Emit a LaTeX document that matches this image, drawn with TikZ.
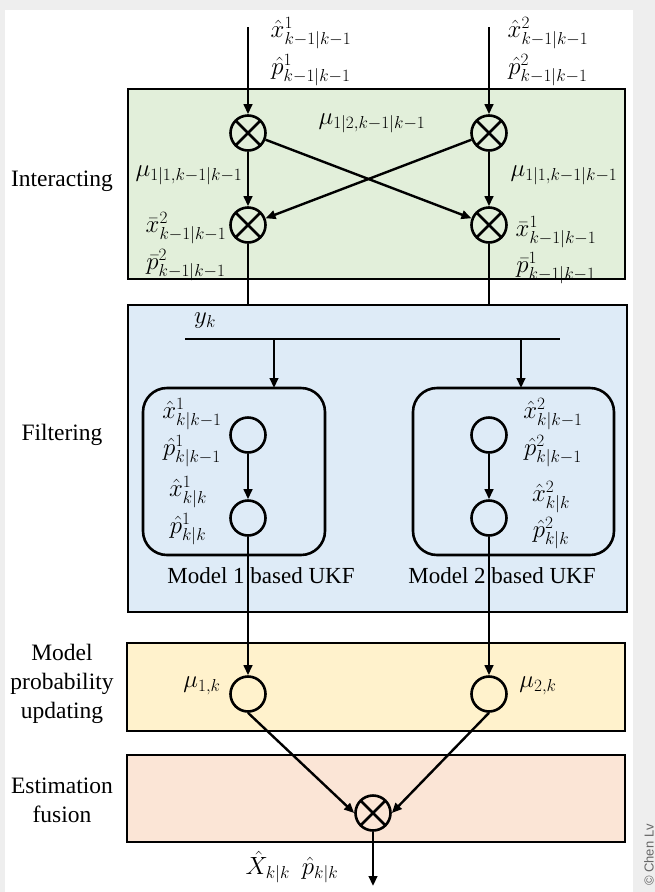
\documentclass[tikz,border=0pt]{standalone}
\usepackage{fontspec}
\setmainfont{Liberation Serif}
\newfontfamily\credfont{Liberation Sans}
\usetikzlibrary{arrows.meta}

\definecolor{pagegrey}{RGB}{238,238,238}
\definecolor{interfill}{RGB}{226,239,218}
\definecolor{filtfill}{RGB}{222,235,247}
\definecolor{probfill}{RGB}{255,242,204}
\definecolor{fusefill}{RGB}{251,229,214}

\tikzset{
  stagebox/.style={draw=black, line width=2.8pt},
  ukfbox/.style={draw=black, line width=2.6pt, rounded corners=24pt},
  conn/.style={line width=2.4pt},
  arr/.style={conn, -{Triangle[length=10pt,width=8.5pt]}},
  ring/.style={circle, draw=black, line width=2.6pt, minimum size=35pt, inner sep=0pt},
  otimes/.style={ring, path picture={
      \draw[line width=2.6pt]
        (path picture bounding box.north west) -- (path picture bounding box.south east)
        (path picture bounding box.north east) -- (path picture bounding box.south west);}},
  lbl/.style={inner sep=0pt, font=\fontsize{24}{28}\selectfont},
  stage/.style={inner sep=0pt, align=center, font=\fontsize{23.5}{29}\selectfont},
  ukfname/.style={inner sep=0pt, font=\fontsize{23}{27}\selectfont},
}

\begin{document}
\begin{tikzpicture}[x=1pt, y=-1pt]
  % page and card
  \fill[pagegrey] (0,0) rectangle (655,892);
  \fill[white] (5,10) rectangle (633,892);
  \useasboundingbox (0,0) rectangle (655,892);

  % stage panels
  \draw[stagebox, fill=interfill] (128,89) rectangle (625,279);
  \draw[stagebox, fill=filtfill]  (128,305) rectangle (627,612);
  \draw[stagebox, fill=probfill]  (127,643) rectangle (625,731);
  \draw[stagebox, fill=fusefill]  (127,755) rectangle (625,842);

  % stage names
  \node[stage] (sInter) at (62,181) {Interacting};
  \node[stage] (sFilt)  at (62,435) {Filtering};
  \node[stage] (sProb)  at (62,684) {Model\\probability\\updating};
  \node[stage] (sFuse)  at (62,800) {Estimation\\fusion};

  % ---------------- interacting ----------------
  \coordinate (in1) at (248,27);
  \coordinate (in2) at (489,27);
  \node[otimes] (a1) at (248,133) {};
  \node[otimes] (a2) at (489,133) {};
  \node[otimes] (b1) at (248,225) {};
  \node[otimes] (b2) at (489,225) {};
  \coordinate (f1) at (248,305);
  \coordinate (f2) at (489,305);

  \draw[arr] (in1) -- (a1);
  \draw[arr] (in2) -- (a2);
  \draw[arr] (a1) -- (b1);
  \draw[arr] (a2) -- (b2);
  \draw[arr] (a1) -- (b2);
  \draw[arr] (a2) -- (b1);
  \draw[conn] (b1) -- (f1);
  \draw[conn] (b2) -- (f2);

  \node[lbl] (lx1) at (311,33) {$\hat{x}^1_{k-1|k-1}$};
  \node[lbl] (lp1) at (311,70) {$\hat{p}^1_{k-1|k-1}$};
  \node[lbl] (lx2) at (548,33) {$\hat{x}^2_{k-1|k-1}$};
  \node[lbl] (lp2) at (548,70) {$\hat{p}^2_{k-1|k-1}$};
  \node[lbl] (mu12) at (372,123) {$\mu_{1|2,k-1|k-1}$};
  \node[lbl] (mu11a) at (189,175) {$\mu_{1|1,k-1|k-1}$};
  \node[lbl] (mu11b) at (564,175) {$\mu_{1|1,k-1|k-1}$};
  \node[lbl] (bx2) at (186,228) {$\bar{x}^2_{k-1|k-1}$};
  \node[lbl] (bp2) at (186,265) {$\bar{p}^2_{k-1|k-1}$};
  \node[lbl] (bx1) at (556,232) {$\bar{x}^1_{k-1|k-1}$};
  \node[lbl] (bp1) at (556,268) {$\bar{p}^1_{k-1|k-1}$};

  % ---------------- filtering ----------------
  \node[lbl] (yk) at (205,321) {$y_k$};
  \coordinate (busL) at (185,339);
  \coordinate (busR) at (560,339);
  \coordinate (tap1) at (274,339);
  \coordinate (tap2) at (521,339);
  \coordinate (top1) at (274,388);
  \coordinate (top2) at (521,388);
  \draw[conn] (busL) -- (busR);
  \draw[arr] (tap1) -- (top1);
  \draw[arr] (tap2) -- (top2);

  \draw[ukfbox] (143,388) rectangle (325,555);
  \draw[ukfbox] (413,388) rectangle (614,555);

  \node[ring] (c11) at (248,435) {};
  \node[ring] (c12) at (248,518) {};
  \node[ring] (c21) at (489,435) {};
  \node[ring] (c22) at (489,518) {};
  \draw[arr] (c11) -- (c12);
  \draw[arr] (c21) -- (c22);

  \node[lbl] (px1) at (192,414) {$\hat{x}^1_{k|k-1}$};
  \node[lbl] (pp1) at (192,451) {$\hat{p}^1_{k|k-1}$};
  \node[lbl] (ux1) at (188,492) {$\hat{x}^1_{k|k}$};
  \node[lbl] (up1) at (188,529) {$\hat{p}^1_{k|k}$};
  \node[lbl] (px2) at (553,414) {$\hat{x}^2_{k|k-1}$};
  \node[lbl] (pp2) at (553,451) {$\hat{p}^2_{k|k-1}$};
  \node[lbl] (ux2) at (551,497) {$\hat{x}^2_{k|k}$};
  \node[lbl] (up2) at (551,533) {$\hat{p}^2_{k|k}$};

  \node[ukfname] (uk1) at (261,576) {Model 1 based UKF};
  \node[ukfname] (uk2) at (502,576) {Model 2 based UKF};

  % ---------------- model probability ----------------
  \node[ring] (y1) at (248,694) {};
  \node[ring] (y2) at (489,694) {};
  \draw[arr] (c12) -- (y1);
  \draw[arr] (c22) -- (y2);
  \node[lbl] (mu1) at (202,686) {$\mu_{1,k}$};
  \node[lbl] (mu2) at (538,686) {$\mu_{2,k}$};

  % ---------------- fusion ----------------
  \node[otimes] (fus) at (373,813) {};
  \coordinate (out) at (373,886);
  \draw[arr] (y1.south) -- (fus.west);
  \draw[arr] (y2.south) -- (fus.east);
  \draw[arr] (fus) -- (out);
  \node[lbl] (est) at (292,867) {$\hat{X}_{k|k}\ \ \hat{p}_{k|k}$};

  % credit line on the page edge
  \node[rotate=90, text=black!60, font=\credfont\fontsize{13}{15}\selectfont, inner sep=0pt]
    (cred) at (649,855) {\textcopyright{} Chen Lv};
\end{tikzpicture}
\end{document}
